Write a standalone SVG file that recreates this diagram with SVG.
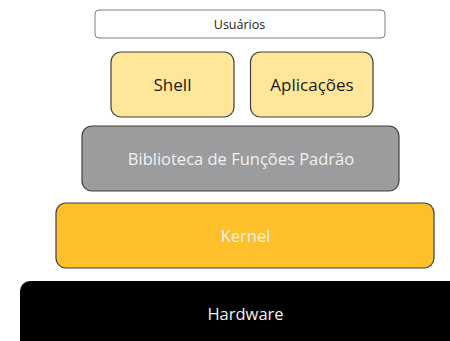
<svg xmlns="http://www.w3.org/2000/svg" width="450" height="341" viewBox="0 0 450 341">
<style>
.b{stroke:#404040;stroke-width:1.2}
text{font-family:"Open Sans","Noto Sans",sans-serif;text-anchor:middle;dominant-baseline:central}
.w{fill:#f2f2f2}
.d{fill:#1a1a1a}
</style>
<rect width="450" height="341" fill="#ffffff"/>
<g id="usuarios">
<rect x="95" y="10" width="290" height="28" rx="4" fill="#ffffff" stroke="#808080" stroke-width="1"/>
<text x="239.5" y="24" font-size="12.5" class="d">Usuários</text>
</g>
<g id="shell">
<rect x="111" y="52" width="123" height="65" rx="10" fill="#ffe699" class="b"/>
<text x="172.5" y="84.5" font-size="17" class="d">Shell</text>
</g>
<g id="aplicacoes">
<rect x="250.5" y="52" width="122.5" height="65" rx="10" fill="#ffe699" class="b"/>
<text x="312" y="84.5" font-size="17" class="d">Aplicações</text>
</g>
<g id="biblioteca">
<rect x="82" y="126" width="317" height="65" rx="10" fill="#9a9c9d" class="b"/>
<text x="241" y="158.5" font-size="16.5" class="w">Biblioteca de Funções Padrão</text>
</g>
<g id="kernel">
<rect x="56" y="203" width="378" height="65" rx="10" fill="#fdbf2a" class="b"/>
<text x="245.5" y="235.5" font-size="16.5" class="w">Kernel</text>
</g>
<g id="hardware">
<rect x="20" y="281" width="450" height="80" rx="10" fill="#000000"/>
<text x="245.5" y="313.5" font-size="16.5" class="w">Hardware</text>
</g>
<g id="connectors"/>
</svg>
